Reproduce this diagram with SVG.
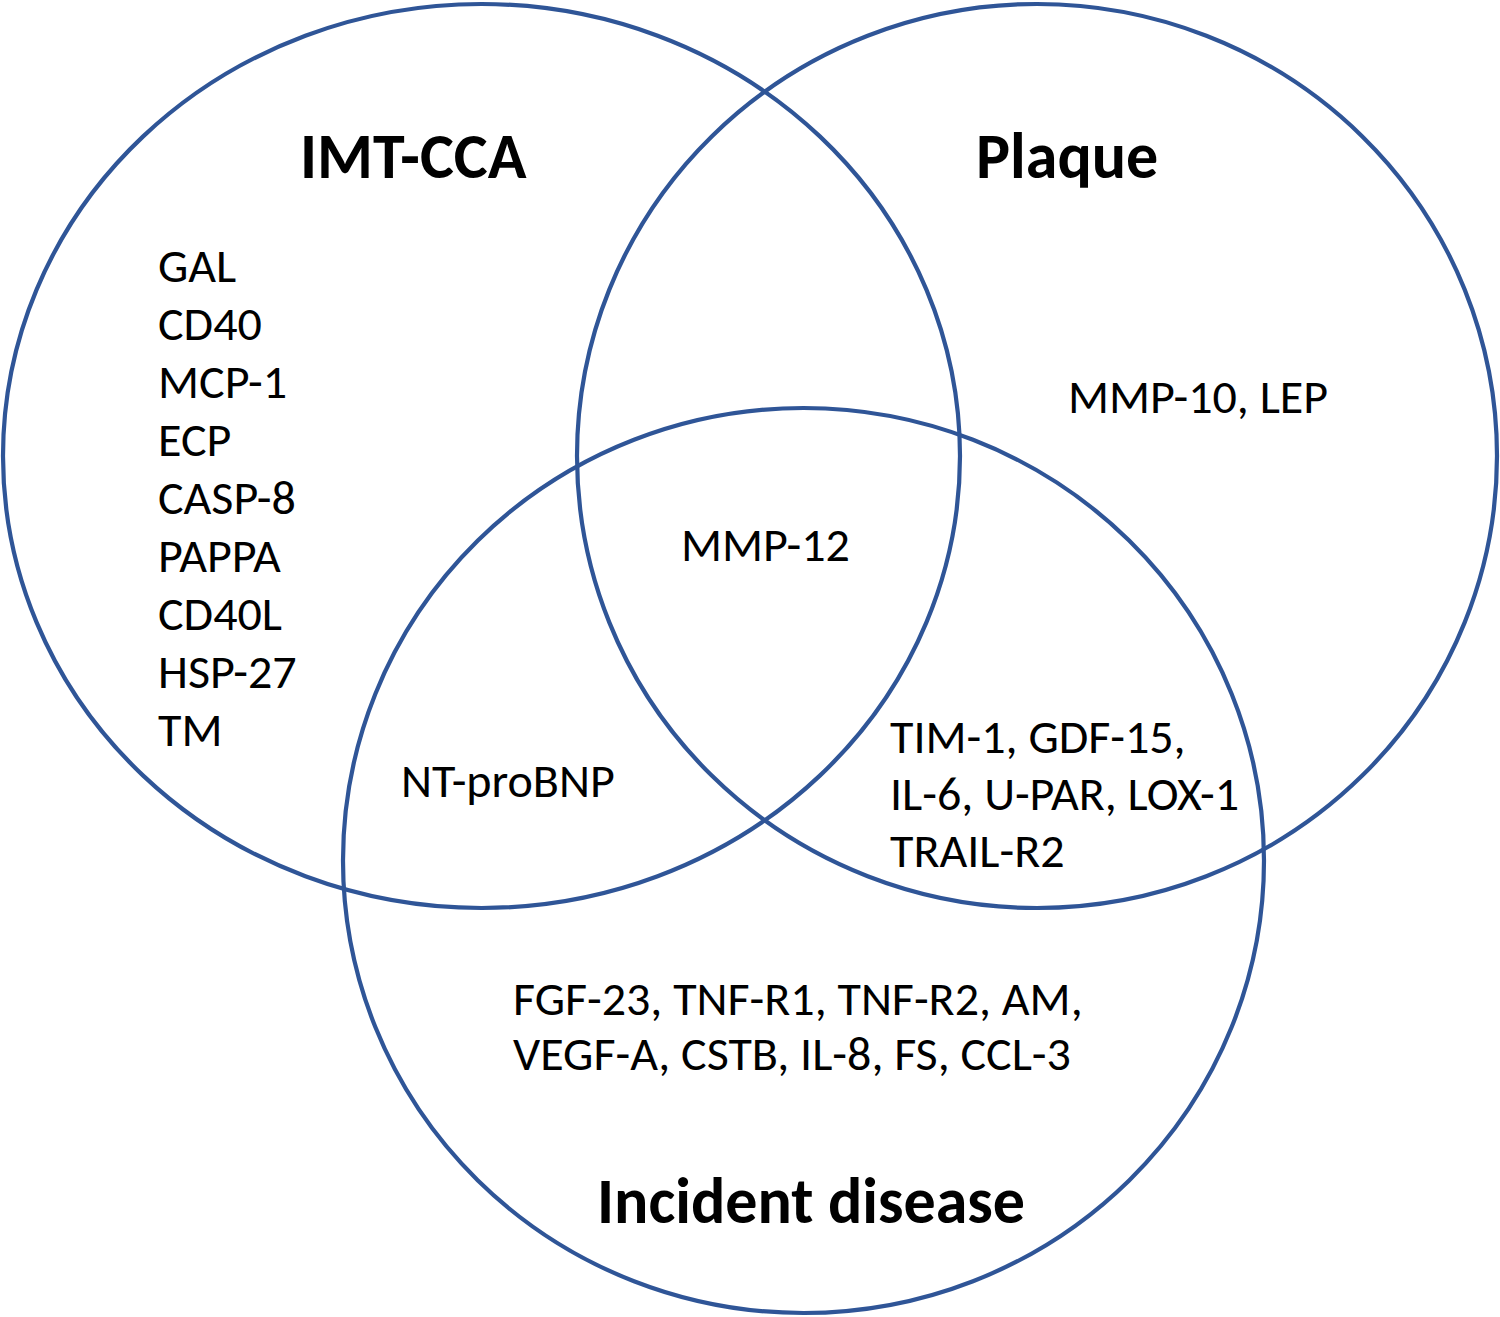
<svg xmlns="http://www.w3.org/2000/svg" width="1500" height="1317" viewBox="0 0 1500 1317">
<style>
.c{fill:none;stroke:#2F5597;stroke-width:4.2}
text{font-family:Carlito,Lato,"Liberation Sans",sans-serif;fill:#000}
.t{font-size:48px}
.h{font-size:64px;font-weight:bold}
</style>
<rect width="1500" height="1317" fill="#fff"/>
<g id="connectors"></g>
<g id="imt-cca">
<ellipse class="c" cx="481.5" cy="456" rx="478.5" ry="452"/>
<text class="h" x="300" y="178">IMT-CCA</text>
<text class="t" x="158" y="282">GAL</text>
<text class="t" x="158" y="340">CD40</text>
<text class="t" x="158" y="398">MCP-1</text>
<text class="t" x="158" y="456">ECP</text>
<text class="t" x="158" y="514">CASP-8</text>
<text class="t" x="158" y="572">PAPPA</text>
<text class="t" x="158" y="630">CD40L</text>
<text class="t" x="158" y="688">HSP-27</text>
<text class="t" x="158" y="746">TM</text>
</g>
<g id="plaque">
<ellipse class="c" cx="1037" cy="456" rx="460" ry="452"/>
<text class="h" x="976" y="178">Plaque</text>
<text class="t" x="1068" y="413">MMP-10, LEP</text>
</g>
<g id="incident-disease">
<ellipse class="c" cx="803.5" cy="860.5" rx="460.5" ry="452.5"/>
<text class="h" x="597" y="1223">Incident disease</text>
<text class="t" x="513" y="1015">FGF-23, TNF-R1, TNF-R2, AM,</text>
<text class="t" x="513" y="1070">VEGF-A, CSTB, IL-8, FS, CCL-3</text>
</g>
<g id="overlaps">
<text class="t" x="681" y="561">MMP-12</text>
<text class="t" x="401" y="797">NT-proBNP</text>
<text class="t" x="890" y="753">TIM-1, GDF-15,</text>
<text class="t" x="890" y="810">IL-6, U-PAR, LOX-1</text>
<text class="t" x="890" y="867">TRAIL-R2</text>
</g>
</svg>
